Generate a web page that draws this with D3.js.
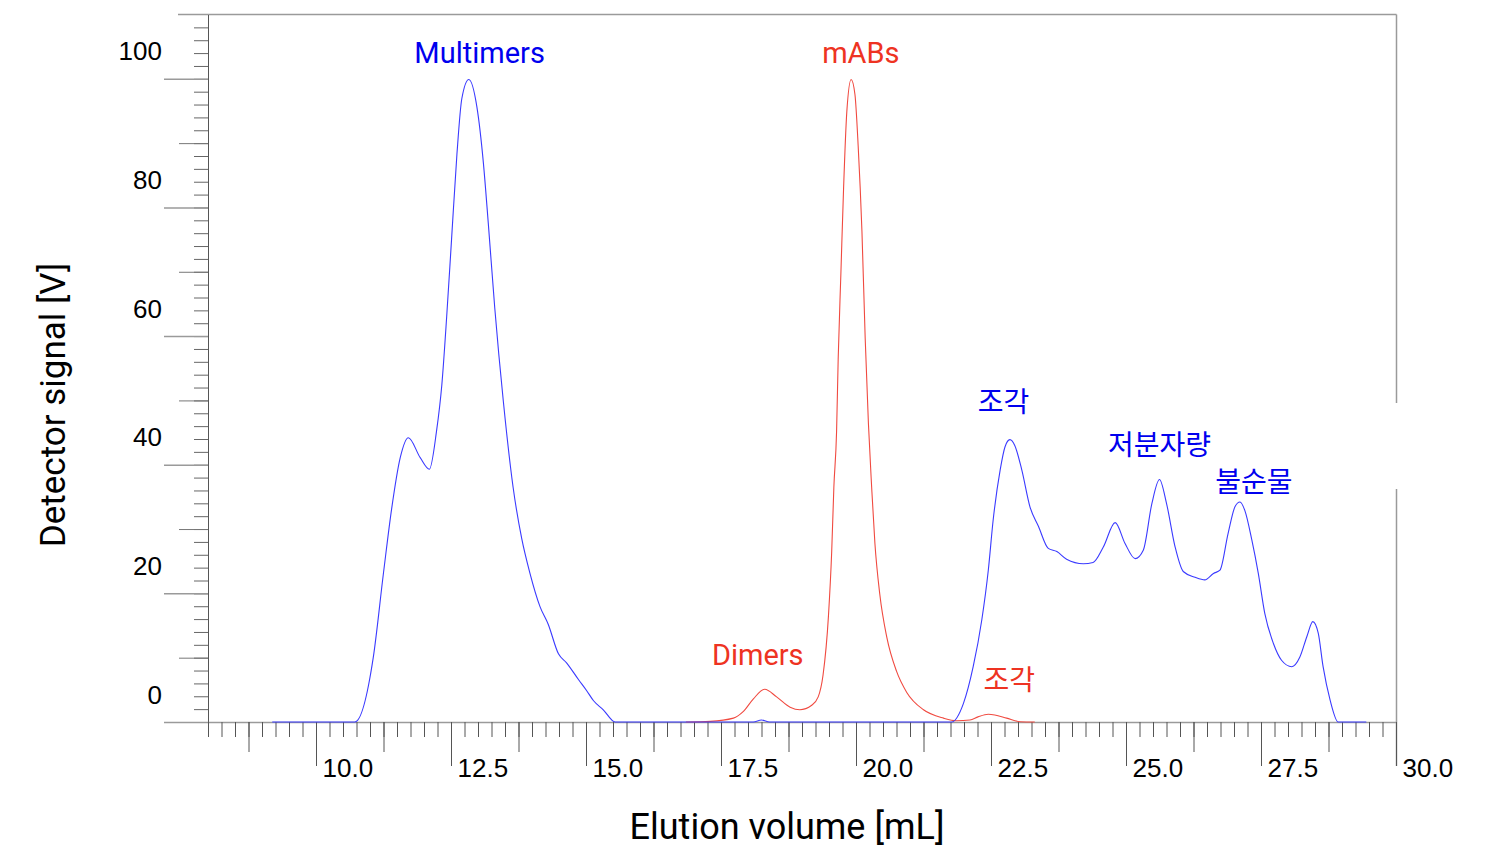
<!DOCTYPE html>
<html>
<head>
<meta charset="utf-8">
<script src="https://cdn.jsdelivr.net/npm/d3@7"></script>
<style>
  html, body { margin: 0; padding: 0; background: #fff; }
  svg { display: block; }
</style>
</head>
<body>
<svg id="chart" width="1496" height="849"></svg>
<script>
// Size-exclusion chromatogram: two runs (aggregated sample in blue, antibody sample in red)

// Elution volume [mL] / detector signal [V] — aggregated sample
const multimerSample = [
  [9.19, 0], [10.72, 0], [11.06, 10.0], [11.25, 23.2], [11.40, 33.1], [11.56, 41.1],
  [11.71, 44.2], [11.93, 41.1], [12.10, 39.3], [12.23, 45.1], [12.33, 52.4], [12.42, 63.0],
  [12.51, 75.0], [12.61, 88.3], [12.70, 96.9], [12.83, 99.9], [12.98, 95.6], [13.10, 86.9],
  [13.19, 77.6], [13.31, 64.4], [13.47, 49.8], [13.65, 36.5], [13.81, 28.5], [13.96, 23.2],
  [14.15, 17.9], [14.30, 15.2], [14.49, 10.6], [14.64, 9.2], [14.86, 6.6], [15.01, 4.9],
  [15.14, 3.3], [15.32, 1.9], [15.54, 0], [18.10, 0], [18.25, 0.3], [18.40, 0],
  [21.77, 0], [21.99, 2.9], [22.17, 8.6], [22.33, 15.9], [22.45, 23.6], [22.54, 31.4],
  [22.67, 39.2], [22.76, 42.8], [22.85, 43.9], [22.94, 43.0], [23.07, 39.2], [23.22, 33.5],
  [23.38, 30.4], [23.56, 27.0], [23.72, 26.5], [23.90, 25.3], [24.21, 24.6], [24.39, 24.8],
  [24.58, 27.2], [24.80, 31.0], [24.98, 27.8], [25.17, 25.4], [25.32, 26.7], [25.48, 34.0],
  [25.62, 37.7], [25.75, 34.0], [25.91, 27.2], [26.06, 23.4], [26.28, 22.5], [26.46, 22.1],
  [26.62, 23.1], [26.74, 23.6], [26.89, 29.3], [27.02, 33.5], [27.11, 34.2], [27.20, 32.9],
  [27.33, 28.3], [27.45, 23.1], [27.57, 16.9], [27.73, 12.2], [27.88, 9.6], [28.07, 8.6],
  [28.22, 10.1], [28.35, 13.3], [28.46, 15.6], [28.56, 13.8], [28.65, 8.6], [28.78, 3.4],
  [28.93, 0], [29.45, 0]
];

// Elution volume [mL] / detector signal [V] — purified antibody sample
const mabSample = [
  [16.85, 0], [17.30, 0.1], [17.73, 0.6], [17.91, 1.6], [18.10, 3.6], [18.31, 5.1],
  [18.53, 3.9], [18.78, 2.3], [18.96, 1.9], [19.18, 2.6], [19.30, 3.9], [19.39, 7.3],
  [19.49, 16.5], [19.55, 26.5], [19.59, 36.5], [19.64, 45.1], [19.67, 56.4], [19.72, 69.7],
  [19.77, 83.0], [19.83, 94.9], [19.91, 99.9], [19.98, 97.6], [20.04, 89.6], [20.11, 76.3],
  [20.17, 59.7], [20.23, 46.4], [20.29, 36.5], [20.35, 27.8], [20.44, 19.9], [20.57, 13.2],
  [20.75, 7.9], [20.94, 4.6], [21.25, 1.9], [21.62, 0.6], [21.86, 0.2], [22.11, 0.3],
  [22.26, 0.8], [22.45, 1.2], [22.57, 1.1], [22.79, 0.6], [23.04, 0.05], [23.31, 0]
];

// Axis tick values
const xMajorTicks = [10.0, 12.5, 15.0, 17.5, 20.0, 22.5, 25.0, 27.5, 30.0];
const xMidTicks = [8.75, 11.25, 13.75, 16.25, 18.75, 21.25, 23.75, 26.25, 28.75];
const yMajorTicks = [0, 20, 40, 60, 80, 100];
const yMidTicks = [10, 30, 50, 70, 90];

// Peak annotations: [text, volume, signal, colour]
const peakLabels = [
  ["Multimers", 13.03, 104.0, "#0000ee"],
  ["mABs", 20.09, 104.0, "#ee3322"],
  ["Dimers", 18.18, 10.4, "#ee3322"],
  ["조각", 22.84, 6.9, "#ee3322"],
  ["조각", 22.73, 50.0, "#0000ee"],
  ["저분자량", 25.62, 43.4, "#0000ee"],
  ["불순물", 27.37, 37.6, "#0000ee"]
];

const svg = d3.select("#chart");

const x = d3.scaleLinear().domain([8, 30]).range([208, 1396]);
const y = d3.scaleLinear().domain([0, 110]).range([722, 14.5]);

const tickFont = "'Liberation Sans', Arial, sans-serif";
const labelFont = "Roboto, 'Noto Sans', sans-serif";
const cjkFont = "'Noto Sans CJK KR', 'Noto Sans CJK SC', sans-serif";

// Frame: top edge and right edge (the right edge is interrupted beside the labels)
svg.append("line")
  .attr("x1", 178).attr("x2", x(30) + 0.5)
  .attr("y1", y(110)).attr("y2", y(110))
  .attr("stroke", "#9a9a9a").attr("stroke-width", 1.5);
svg.append("line")
  .attr("x1", x(30) + 0.5).attr("x2", x(30) + 0.5)
  .attr("y1", y(110)).attr("y2", 403)
  .attr("stroke", "#9a9a9a").attr("stroke-width", 1.5);
svg.append("line")
  .attr("x1", x(30) + 0.5).attr("x2", x(30) + 0.5)
  .attr("y1", 489).attr("y2", 766)
  .attr("stroke", "#9a9a9a").attr("stroke-width", 1.5);

// Y axis: minor, mid and major ticks
const yMinor = svg.append("g").attr("transform", `translate(${x(8)},0)`)
  .call(d3.axisLeft(y).tickValues(d3.range(0, 110, 2)).tickSize(14).tickSizeOuter(0).tickFormat(""));
yMinor.select(".domain").attr("stroke", "#555");
yMinor.selectAll(".tick line").attr("stroke", "#666");

const yMid = svg.append("g").attr("transform", `translate(${x(8)},0)`)
  .call(d3.axisLeft(y).tickValues(yMidTicks).tickSize(29).tickFormat(""));
yMid.select(".domain").remove();
yMid.selectAll(".tick line").attr("stroke", "#777");

const yMajor = svg.append("g").attr("transform", `translate(${x(8)},0)`)
  .call(d3.axisLeft(y).tickValues(yMajorTicks).tickSize(44).tickFormat(d3.format("d")));
yMajor.select(".domain").remove();
yMajor.selectAll(".tick line").attr("stroke", "#9a9a9a").attr("stroke-width", 1.5);
yMajor.selectAll(".tick text")
  .attr("x", -46).attr("dy", "-0.73em")
  .attr("fill", "#000")
  .style("font-family", tickFont).style("font-size", "26px");

// X axis: minor, mid and major ticks
const xMinor = svg.append("g").attr("transform", `translate(0,${y(0)})`)
  .call(d3.axisBottom(x).tickValues(d3.range(8, 30.01, 0.25)).tickSize(15).tickSizeOuter(0).tickFormat(""));
xMinor.select(".domain").attr("stroke", "#9a9a9a").attr("stroke-width", 1.5);
xMinor.selectAll(".tick line").attr("stroke", "#555");

const xMid = svg.append("g").attr("transform", `translate(0,${y(0)})`)
  .call(d3.axisBottom(x).tickValues(xMidTicks).tickSize(30).tickFormat(""));
xMid.select(".domain").remove();
xMid.selectAll(".tick line").attr("stroke", "#555");

const xMajor = svg.append("g").attr("transform", `translate(0,${y(0)})`)
  .call(d3.axisBottom(x).tickValues(xMajorTicks).tickSize(44).tickFormat(d3.format(".1f")));
xMajor.select(".domain").remove();
xMajor.selectAll(".tick line").attr("stroke", "#555");
xMajor.selectAll(".tick text")
  .attr("y", 55).attr("x", 6).attr("dy", 0)
  .attr("text-anchor", "start")
  .attr("fill", "#000")
  .style("font-family", tickFont).style("font-size", "26px");

// Traces
const line = d3.line()
  .x(d => x(d[0]))
  .y(d => y(d[1]))
  .curve(d3.curveMonotoneX);

svg.append("path").datum(mabSample)
  .attr("d", line).attr("fill", "none")
  .attr("stroke", "#f04a40").attr("stroke-width", 1.1);

svg.append("path").datum(multimerSample)
  .attr("d", line).attr("fill", "none")
  .attr("stroke", "#3a3aff").attr("stroke-width", 1.1);

// Peak annotations
svg.append("g").selectAll("text").data(peakLabels).join("text")
  .attr("x", d => x(d[1]))
  .attr("y", d => y(d[2]))
  .attr("text-anchor", "middle")
  .attr("dominant-baseline", "central")
  .attr("fill", d => d[3])
  .style("font-family", d => /[가-힣]/.test(d[0]) ? cjkFont : labelFont)
  .style("font-size", d => /[가-힣]/.test(d[0]) ? "28px" : "29px")
  .text(d => d[0]);

// Axis titles
svg.append("text")
  .attr("x", 787).attr("y", 839)
  .attr("text-anchor", "middle")
  .attr("fill", "#000")
  .style("font-family", labelFont).style("font-size", "36px")
  .text("Elution volume [mL]");

svg.append("text")
  .attr("transform", "translate(65,405) rotate(-90)")
  .attr("text-anchor", "middle")
  .attr("fill", "#000")
  .style("font-family", labelFont).style("font-size", "35px")
  .text("Detector signal [V]");
</script>
</body>
</html>
